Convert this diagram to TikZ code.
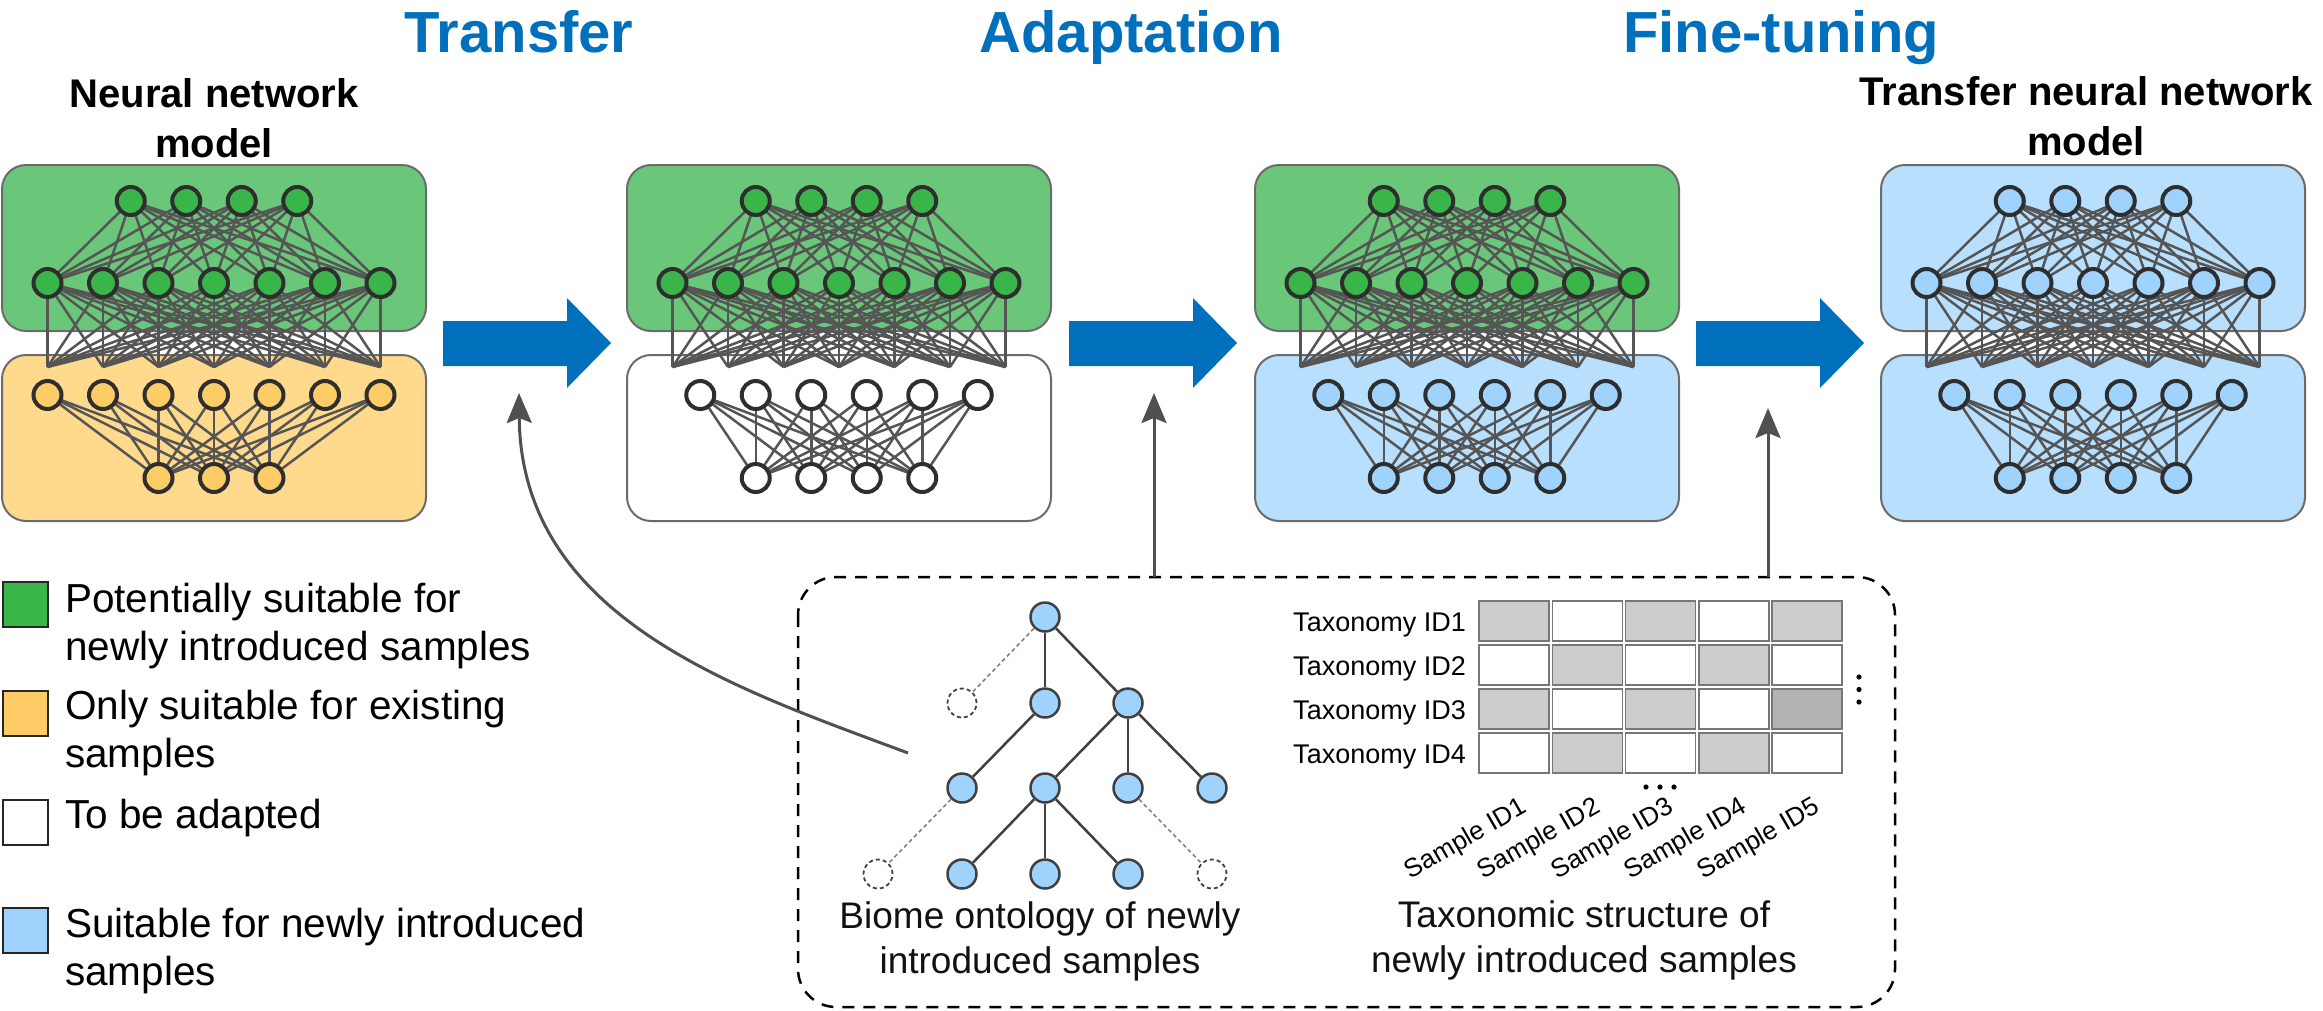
\documentclass[tikz,border=0pt]{standalone}
\usepackage{fontspec}
\setmainfont{Liberation Sans}
\usetikzlibrary{arrows.meta}
\pgfdeclarelayer{back}
\pgfdeclarelayer{mid}
\pgfsetlayers{back,mid,main}
\definecolor{gbox}{HTML}{6AC77A}
\definecolor{gnode}{HTML}{39B54A}
\definecolor{obox}{HTML}{FFD98C}
\definecolor{onode}{HTML}{FECC66}
\definecolor{bbox}{HTML}{B8DFFD}
\definecolor{bnode}{HTML}{9FD2FC}
\definecolor{arrowblue}{HTML}{0070BD}
\definecolor{edgegray}{HTML}{555555}
\definecolor{nodeborder}{HTML}{2E2E2E}
\definecolor{boxborder}{HTML}{6B6B6B}
\definecolor{treeline}{HTML}{404040}
\definecolor{dotline}{HTML}{8A8070}
\definecolor{cellgray}{HTML}{CCCCCC}
\definecolor{celldark}{HTML}{B3B3B3}
\definecolor{cellborder}{HTML}{777777}
\definecolor{pointer}{HTML}{505050}
\definecolor{textblack}{HTML}{111111}
\tikzset{
  panelbox/.style={draw=boxborder, line width=2pt, rounded corners=24pt},
  nn/.style={circle, draw=nodeborder, line width=4pt, minimum size=28pt, inner sep=0pt},
  conn/.style={draw=edgegray, line width=2.5pt},
  titletext/.style={text=arrowblue, font=\fontsize{58}{60}\selectfont\bfseries, anchor=base, inner sep=0pt},
  modeltext/.style={text=black, font=\fontsize{40}{50}\selectfont\bfseries, align=center, anchor=base, inner sep=0pt},
  tn/.style={circle, draw=treeline, line width=2.5pt, fill=bnode, minimum size=29pt, inner sep=0pt},
  tnd/.style={circle, draw=treeline, line width=1.8pt, dash pattern=on 4pt off 3pt, minimum size=29pt, inner sep=0pt},
  tedge/.style={draw=treeline, line width=2.5pt},
  tdot/.style={draw=dotline, line width=1.6pt, dash pattern=on 4pt off 3pt},
  lsq/.style={draw=black!85, line width=2pt, minimum size=45pt, inner sep=0pt},
  ltext/.style={text=black, font=\fontsize{40.5}{48}\selectfont, align=left, anchor=base west, inner sep=0pt},
  captext/.style={text=textblack, font=\fontsize{37}{45}\selectfont, align=center, anchor=base, inner sep=0pt},
  rowtext/.style={text=black, font=\fontsize{27}{30}\selectfont, anchor=base east, inner sep=0pt},
  coltext/.style={text=black, font=\fontsize{26}{30}\selectfont, anchor=north east, inner sep=0pt, rotate=30},
  cell/.style={draw=cellborder, line width=1.5pt, minimum width=70pt, minimum height=40pt, inner sep=0pt},
  garrow/.style={draw=pointer, line width=3pt, -{Stealth[length=30pt, width=25pt, inset=5pt]}},
  dbox/.style={draw=black, line width=2.5pt, dash pattern=on 12pt off 9pt, rounded corners=38pt}
}
% #1 prefix, #2 left x, #3 top box fill, #4 top node fill, #5 lower box fill, #6 lower node fill, #7 layout (7 or 6)
\newcommand{\drawpanel}[7]{%
  \begin{pgfonlayer}{back}
    \path[panelbox, fill=#3] (#2,165) rectangle ++(424,166);
    \path[panelbox, fill=#5] (#2,355) rectangle ++(424,166);
  \end{pgfonlayer}
  \ifnum#7=7 \def\nlow{7}\def\nbot{3}\else \def\nlow{6}\def\nbot{4}\fi
  \foreach \i in {1,...,4}{\node[nn, fill=#4] (#1t\i) at ({#2+212+(\i-2.5)*55.5},201) {};}
  \foreach \i in {1,...,7}{%
    \node[nn, fill=#4] (#1m\i) at ({#2+212+(\i-4)*55.5},283) {};
    \coordinate (#1e\i) at ({#2+212+(\i-4)*55.5},367);}
  \foreach \i in {1,...,\nlow}{\node[nn, fill=#6] (#1l\i) at ({#2+212+(\i-(\nlow+1)/2)*55.5},395) {};}
  \foreach \i in {1,...,\nbot}{\node[nn, fill=#6] (#1b\i) at ({#2+212+(\i-(\nbot+1)/2)*55.5},478) {};}
  \begin{pgfonlayer}{mid}
    \foreach \i in {1,...,4}{\foreach \j in {1,...,7}{\draw[conn] (#1t\i.center) -- (#1m\j.center);}}
    \foreach \i in {1,...,7}{\foreach \j in {1,...,7}{\draw[conn] (#1m\i.center) -- (#1e\j);}}
    \foreach \i in {1,...,\nlow}{\foreach \j in {1,...,\nbot}{\draw[conn] (#1l\i.center) -- (#1b\j.center);}}
  \end{pgfonlayer}
}
\begin{document}
\begin{tikzpicture}[x=1pt, y=-1pt]
\useasboundingbox (0,0) rectangle (2323,1010);

% titles
\node[titletext] (ttransfer) at (519,52) {Transfer};
\node[titletext] (tadapt) at (1131,52) {Adaptation};
\node[titletext] (tfine) at (1781,52) {Fine-tuning};
\node[modeltext] (mleft) at (214,157) {Neural network\\model};
\node[modeltext] (mright) at (2086,155) {Transfer neural network\\model};

% panels
\drawpanel{pa}{2}{gbox}{gnode}{obox}{onode}{7}
\drawpanel{pb}{627}{gbox}{gnode}{white}{white}{6}
\drawpanel{pc}{1255}{gbox}{gnode}{bbox}{bnode}{6}
\drawpanel{pd}{1881}{bbox}{bnode}{bbox}{bnode}{6}

% big blue arrows
\foreach \ax in {443,1069,1696}{%
  \fill[arrowblue] (\ax,321) -- ++(124,0) -- ++(0,-23) -- ++(44,45) -- ++(-44,45) -- ++(0,-22) -- ++(-124,0) -- cycle;}

% dashed box
\draw[dbox] (798,577) rectangle (1895,1007);

% pointers
\coordinate (c1s) at (908,753);
\coordinate (c1e) at (519,393);
\coordinate (c2s) at (1154,577);
\coordinate (c2e) at (1154,393);
\coordinate (c3s) at (1768,577);
\coordinate (c3e) at (1768,408);
\draw[garrow] (c1s) .. controls (740,690) and (521,620) .. (c1e);
\draw[garrow] (c2s) -- (c2e);
\draw[garrow] (c3s) -- (c3e);

% tree
\node[tn] (r) at (1045,617) {};
\node[tnd] (a1) at (962,703) {};
\node[tn] (a2) at (1045,703) {};
\node[tn] (a3) at (1128,703) {};
\node[tn] (b1) at (962,788) {};
\node[tn] (b2) at (1045,788) {};
\node[tn] (b3) at (1128,788) {};
\node[tn] (b4) at (1212,788) {};
\node[tnd] (c0) at (878,874) {};
\node[tn] (c1) at (962,874) {};
\node[tn] (c2) at (1045,874) {};
\node[tn] (c3) at (1128,874) {};
\node[tnd] (c4) at (1212,874) {};
\draw[tdot] (r) -- (a1);
\draw[tedge] (r) -- (a2);
\draw[tedge] (r) -- (a3);
\draw[tedge] (a2) -- (b1);
\draw[tedge] (a3) -- (b2);
\draw[tedge] (a3) -- (b3);
\draw[tedge] (a3) -- (b4);
\draw[tedge] (b2) -- (c1);
\draw[tedge] (b2) -- (c2);
\draw[tedge] (b2) -- (c3);
\draw[tdot] (b1) -- (c0);
\draw[tdot] (b3) -- (c4);
\node[captext] (tcap) at (1040,973) {Biome ontology of newly\\introduced samples};

% table
\foreach \r in {1,...,4}{%
  \foreach \c in {1,...,5}{%
    \pgfmathtruncatemacro{\cpar}{mod(\r+\c,2)}
    \ifnum\cpar=0 \def\cf{cellgray}\else \def\cf{white}\fi
    \ifnum\r=3 \ifnum\c=5 \def\cf{celldark}\fi\fi
    \node[cell, fill=\cf] (cell\r\c) at ({1514+(\c-1)*73.25},{621+(\r-1)*44}) {};}
  \node[rowtext] (row\r) at (1466,{631+(\r-1)*44}) {Taxonomy ID\r};}
\foreach \c in {1,...,5}{\node[coltext] (col\c) at ({1519+(\c-1)*73.25},795) {Sample ID\c};}
\foreach \dx in {1646,1660,1674}{\fill[black] (\dx,787) circle (2.6pt);}
\foreach \dy in {677,689.5,702}{\fill[black] (1859,\dy) circle (2.6pt);}
\node[captext] (tabcap) at (1584,972) {Taxonomic structure of\\newly introduced samples};

% legend
\node[lsq, fill=gnode] (lg) at (25,604.5) {};
\node[lsq, fill=onode] (lo) at (25,713.5) {};
\node[lsq, fill=white] (lw) at (25,822) {};
\node[lsq, fill=bnode] (lb) at (25,930.5) {};
\node[ltext] (lgt) at (65,660) {Potentially suitable for\\newly introduced samples};
\node[ltext] (lot) at (65,767) {Only suitable for existing\\samples};
\node[ltext] (lwt) at (65,828) {To be adapted};
\node[ltext] (lbt) at (65,985) {Suitable for newly introduced\\samples};
\end{tikzpicture}
\end{document}
